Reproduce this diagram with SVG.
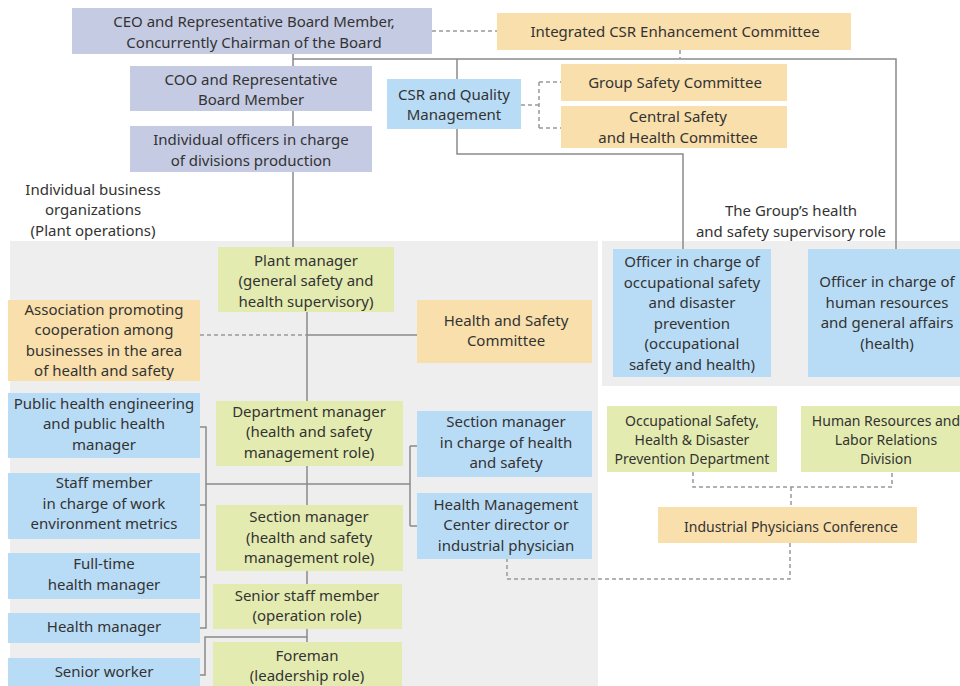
<svg xmlns="http://www.w3.org/2000/svg" width="960" height="686" viewBox="0 0 960 686">
<style>
text{font-family:"Noto Sans","Open Sans","DejaVu Sans",sans-serif;font-size:15px;fill:#333;text-anchor:middle}
.sm{font-size:14px}
.pu{fill:#c5cbe3}.bl{fill:#b9dcf6}.or{fill:#f9dfab}.gr{fill:#e3ebb0}
.ln{fill:none;stroke:#8a8a8a;stroke-width:1.5}
.ds{fill:none;stroke:#999;stroke-width:1.5;stroke-dasharray:4,3}
</style>
<rect width="960" height="686" fill="#fff"/>
<rect x="10" y="241" width="588" height="445" fill="#eeeeee"/>
<rect x="602" y="241" width="358" height="145" fill="#eeeeee"/>
<g id="connectors">
<path class="ln" d="M293,54V247M293,59H896V249M457,59V79M457,129V154H683V249"/>
<path class="ds" d="M432,31H497M680,50V59M521,105H539M539,82V128M539,82H561M539,128H561"/>
<path class="ln" d="M307,312V401M307,335H417"/>
<path class="ds" d="M200,335H307"/>
<path class="ln" d="M307,466V505M206,484H410M410,446V526M410,446H417M410,526H417"/>
<path class="ln" d="M200,427H206V628H200M200,505H206M200,577H206"/>
<path class="ln" d="M307,571V584M307,629V642M307,637H205V675H200"/>
<path class="ds" d="M693,472V487H892V472M791,487V507M790,543V579H507V559"/>
</g>
<g id="ceo"><rect class="pu" x="72" y="8" width="360" height="46"/><text x="254" y="27.3">CEO and Representative Board Member,</text><text x="254" y="47.8">Concurrently Chairman of the Board</text></g>
<g id="coo"><rect class="pu" x="130" y="66" width="242" height="45"/><text x="251" y="84.8">COO and Representative</text><text x="251" y="105.3">Board Member</text></g>
<g id="officers"><rect class="pu" x="130" y="126" width="242" height="46"/><text x="251" y="145.3">Individual officers in charge</text><text x="251" y="165.8">of divisions production</text></g>
<g id="label-business"><text x="93" y="194.5">Individual business</text><text x="93" y="215">organizations</text><text x="93" y="235.5">(Plant operations)</text></g>
<g id="csr-quality"><rect class="bl" x="387" y="79" width="134" height="50"/><text x="454" y="99.8">CSR and Quality</text><text x="454" y="120.3">Management</text></g>
<g id="integrated-csr"><rect class="or" x="497" y="13" width="354" height="37"/><text x="675" y="37">Integrated CSR Enhancement Committee</text></g>
<g id="group-safety"><rect class="or" x="561" y="64" width="226" height="37"/><text x="675" y="88">Group Safety Committee</text></g>
<g id="central-safety"><rect class="or" x="561" y="106" width="226" height="42"/><text x="678" y="122.3">Central Safety</text><text x="678" y="142.8">and Health Committee</text></g>
<g id="label-group"><text x="791" y="216.3">The Group’s health</text><text x="791" y="236.8">and safety supervisory role</text></g>
<g id="officer-occ"><rect class="bl" x="613" y="249" width="158" height="128"/><text x="692" y="267">Officer in charge of</text><text x="692" y="287.5">occupational safety</text><text x="692" y="308">and disaster</text><text x="692" y="328.5">prevention</text><text x="692" y="349">(occupational</text><text x="692" y="369.5">safety and health)</text></g>
<g id="officer-hr"><rect class="bl" x="808" y="249" width="160" height="128"/><text x="887" y="287.3">Officer in charge of</text><text x="887" y="307.8">human resources</text><text x="887" y="328.3">and general affairs</text><text x="887" y="348.8">(health)</text></g>
<g id="plant-manager"><rect class="gr" x="218" y="247" width="176" height="65"/><text x="306" y="265.5">Plant manager</text><text x="306" y="286">(general safety and</text><text x="306" y="306.5">health supervisory)</text></g>
<g id="association"><rect class="or" x="8" y="300" width="192" height="81"/><text x="104" y="314.8">Association promoting</text><text x="104" y="335.3">cooperation among</text><text x="104" y="355.8">businesses in the area</text><text x="104" y="376.3">of health and safety</text></g>
<g id="hs-committee"><rect class="or" x="417" y="300" width="175" height="63"/><text x="506" y="325.8">Health and Safety</text><text x="506" y="346.3">Committee</text></g>
<g id="public-health"><rect class="bl" x="8" y="393" width="192" height="65"/><text x="104" y="408.5">Public health engineering</text><text x="104" y="429">and public health</text><text x="104" y="449.5">manager</text></g>
<g id="dept-manager"><rect class="gr" x="216" y="401" width="187" height="65"/><text x="309" y="416.5">Department manager</text><text x="309" y="437">(health and safety</text><text x="309" y="457.5">management role)</text></g>
<g id="section-hs"><rect class="bl" x="417" y="411" width="175" height="66"/><text x="506" y="427.2">Section manager</text><text x="506" y="447.7">in charge of health</text><text x="506" y="468.2">and safety</text></g>
<g id="hmc"><rect class="bl" x="417" y="493" width="175" height="66"/><text x="506" y="509.8">Health Management</text><text x="506" y="530.3">Center director or</text><text x="506" y="550.8">industrial physician</text></g>
<g id="section-manager"><rect class="gr" x="216" y="505" width="187" height="66"/><text x="309" y="522.2">Section manager</text><text x="309" y="542.7">(health and safety</text><text x="309" y="563.2">management role)</text></g>
<g id="staff-member"><rect class="bl" x="8" y="473" width="192" height="66"/><text x="104" y="488.2">Staff member</text><text x="104" y="508.7">in charge of work</text><text x="104" y="529.2">environment metrics</text></g>
<g id="fulltime"><rect class="bl" x="8" y="553" width="192" height="46"/><text x="104" y="569.3">Full-time</text><text x="104" y="589.8">health manager</text></g>
<g id="health-manager"><rect class="bl" x="8" y="613" width="192" height="30"/><text x="104" y="632">Health manager</text></g>
<g id="senior-worker"><rect class="bl" x="8" y="658" width="192" height="30"/><text x="104" y="677">Senior worker</text></g>
<g id="senior-staff"><rect class="gr" x="213" y="584" width="189" height="45"/><text x="307" y="600.8">Senior staff member</text><text x="307" y="621.3">(operation role)</text></g>
<g id="foreman"><rect class="gr" x="213" y="642" width="189" height="46"/><text x="307" y="660.8">Foreman</text><text x="307" y="681.3">(leadership role)</text></g>
<g id="occ-dept"><rect class="gr" x="607" y="406" width="170" height="66"/><text class="sm" x="692" y="425.8">Occupational Safety,</text><text class="sm" x="692" y="445">Health &amp; Disaster</text><text class="sm" x="692" y="464.2">Prevention Department</text></g>
<g id="hr-division"><rect class="gr" x="801" y="406" width="170" height="66"/><text class="sm" x="886" y="425.8">Human Resources and</text><text class="sm" x="886" y="445">Labor Relations</text><text class="sm" x="886" y="464.2">Division</text></g>
<g id="ipc"><rect class="or" x="658" y="507" width="259" height="36"/><text class="sm" x="791" y="532">Industrial Physicians Conference</text></g>
</svg>
